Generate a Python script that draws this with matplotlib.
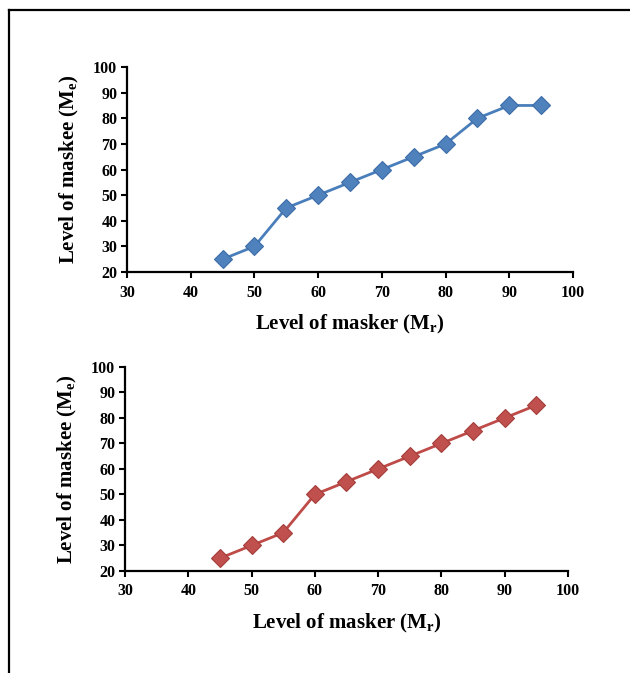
import matplotlib
matplotlib.use("Agg")
import matplotlib.pyplot as plt
from matplotlib.lines import Line2D

plt.rcParams['font.family'] = ['Liberation Serif', 'DejaVu Serif']
plt.rcParams['font.weight'] = 'bold'
plt.rcParams['mathtext.fontset'] = 'custom'
plt.rcParams['mathtext.rm'] = 'Liberation Serif:bold'
plt.rcParams['mathtext.bf'] = 'Liberation Serif:bold'
plt.rcParams['mathtext.default'] = 'rm'

masker = [45, 50, 55, 60, 65, 70, 75, 80, 85, 90, 95]
maskee_top = [25, 30, 45, 50, 55, 60, 65, 70, 80, 85, 85]
maskee_bottom = [25, 30, 35, 50, 55, 60, 65, 70, 75, 80, 85]
xticks = [30, 40, 50, 60, 70, 80, 90, 100]
yticks = [20, 30, 40, 50, 60, 70, 80, 90, 100]

fig = plt.figure(figsize=(6.3, 6.73), dpi=100)

def style(ax):
    ax.set_xlim(30, 100)
    ax.set_ylim(20, 100)
    ax.set_xticks(xticks)
    ax.set_yticks(yticks)
    for s in ['top', 'right']:
        ax.spines[s].set_visible(False)
    for s in ['left', 'bottom']:
        ax.spines[s].set_linewidth(1.6)
    ax.tick_params(direction='out', length=4, width=1.5, labelsize=11.5, pad=3)
    ax.tick_params(axis='x', pad=5)
    for lab in ax.get_xticklabels() + ax.get_yticklabels():
        lab.set_fontweight('bold')
    ax.set_xlabel('Level of masker (M$_{r}$)', fontsize=15, fontweight='bold', labelpad=9)
    ax.set_ylabel('Level of maskee (M$_{e}$)', fontsize=15, fontweight='bold', labelpad=9)

ax1 = fig.add_axes([0.2016, 0.5958, 0.708, 0.3046])
ax1.plot(masker, maskee_top, color='#4A7EBB', lw=2, marker='D', markersize=9,
         markerfacecolor='#4F81BD', markeredgecolor='#3C6DA8', markeredgewidth=0.8)
style(ax1)

ax2 = fig.add_axes([0.1984, 0.1516, 0.703, 0.3031])
ax2.plot(masker, maskee_bottom, color='#BE4B48', lw=2, marker='D', markersize=9,
         markerfacecolor='#C0504D', markeredgecolor='#A43D3A', markeredgewidth=0.8)
style(ax2)

# frame border (top and left)
fig.add_artist(Line2D([8.5/630, 8.5/630], [0, 1 - 10/673], color='black', lw=1.6, transform=fig.transFigure))
fig.add_artist(Line2D([8.5/630, 1], [1 - 10/673, 1 - 10/673], color='black', lw=1.6, transform=fig.transFigure))

fig.savefig('out.png', dpi=100)
